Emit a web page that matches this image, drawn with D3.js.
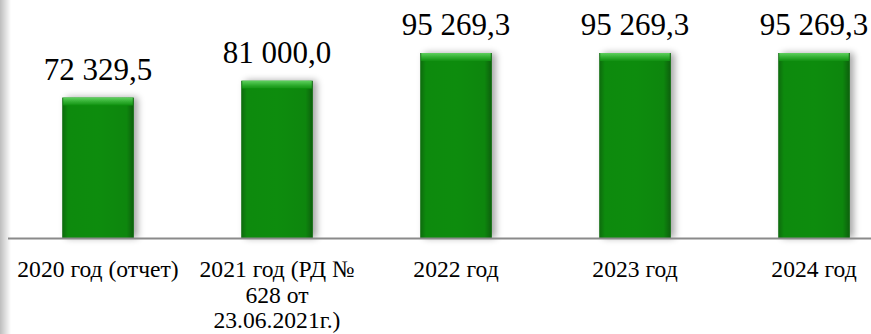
<!DOCTYPE html>
<html><head><meta charset="utf-8">
<script src="https://cdn.jsdelivr.net/npm/d3@7"></script>
</head><body style="margin:0">
<script>
const categories = ["2020 год (отчет)", "2021 год (РД № 628 от 23.06.2021г.)", "2022 год", "2023 год", "2024 год"];
const categoryLines = [["2020 год (отчет)"], ["2021 год (РД №", "628 от", "23.06.2021г.)"], ["2022 год"], ["2023 год"], ["2024 год"]];
const values = [72329.5, 81000.0, 95269.3, 95269.3, 95269.3];
const valueLabels = ["72 329,5", "81 000,0", "95 269,3", "95 269,3", "95 269,3"];

const W = 871, H = 334;
const svg = d3.select("body").append("svg").attr("width", W).attr("height", H);

const baseY = 238;
const x = d3.scaleBand().domain(categories).range([8.5, 903.5]).paddingInner(0.6).paddingOuter(0.3);
const y = d3.scaleLinear().domain([0, 95269.3]).range([baseY, 53]);

const defs = svg.append("defs");
const lg = defs.append("linearGradient").attr("id", "edge").attr("x1", 0).attr("x2", 1);
lg.append("stop").attr("offset", 0).attr("stop-color", "#bdbdbd");
lg.append("stop").attr("offset", 1).attr("stop-color", "#ffffff");
const hg = defs.append("linearGradient").attr("id", "barH").attr("x1", 0).attr("x2", 1);
[[0, "#0c6a0c"], [0.08, "#0a8a0a"], [0.5, "#0b8c0b"], [0.9, "#0a860a"], [1, "#075f07"]].forEach(([o, c]) =>
  hg.append("stop").attr("offset", o).attr("stop-color", c));
const tg = defs.append("linearGradient").attr("id", "barTop").attr("x1", 0).attr("x2", 0).attr("y1", 0).attr("y2", 1);
[[0, "#5fd05f"], [0.5, "#33b033"], [1, "#109010"]].forEach(([o, c]) =>
  tg.append("stop").attr("offset", o).attr("stop-color", c));
const sh = defs.append("filter").attr("id", "shadow").attr("x", "-30%").attr("y", "-10%").attr("width", "160%").attr("height", "120%");
sh.append("feGaussianBlur").attr("in", "SourceAlpha").attr("stdDeviation", 3.5).attr("result", "b");
sh.append("feOffset").attr("in", "b").attr("dx", 4).attr("dy", 0).attr("result", "o");
sh.append("feComponentTransfer").attr("in", "o").attr("result", "oa")
  .append("feFuncA").attr("type", "linear").attr("slope", 0.35);
const m = sh.append("feMerge");
m.append("feMergeNode").attr("in", "oa");
m.append("feMergeNode").attr("in", "SourceGraphic");

svg.append("rect").attr("x", 0).attr("y", 0).attr("width", 11).attr("height", H).attr("fill", "url(#edge)");

const bars = svg.append("g").selectAll("g").data(values).join("g").attr("filter", "url(#shadow)");
bars.append("rect")
  .attr("x", (d, i) => x(categories[i])).attr("y", d => y(d))
  .attr("width", x.bandwidth()).attr("height", d => baseY - y(d)).attr("fill", "url(#barH)");
bars.append("rect")
  .attr("x", (d, i) => x(categories[i]) + 1).attr("y", d => y(d))
  .attr("width", x.bandwidth() - 2).attr("height", 8).attr("fill", "url(#barTop)");

svg.append("line").attr("x1", 8).attr("x2", W).attr("y1", baseY + 0.5).attr("y2", baseY + 0.5)
  .attr("stroke", "#8a8a8a").attr("stroke-width", 2);

svg.selectAll("text.v").data(valueLabels).join("text").attr("class", "v")
  .attr("x", (d, i) => x(categories[i]) + x.bandwidth() / 2)
  .attr("y", (d, i) => y(values[i]) - 18)
  .attr("text-anchor", "middle")
  .style("font-family", '"Liberation Serif"')
  .style("font-size", "31px")
  .text(d => d);

categoryLines.forEach((lines, i) => {
  const cx = x(categories[i]) + x.bandwidth() / 2;
  lines.forEach((t, j) => {
    svg.append("text").attr("x", cx).attr("y", 277 + j * 25.5)
      .attr("text-anchor", "middle")
      .style("font-family", '"Liberation Serif"')
      .style("font-size", "23.6px")
      .text(t);
  });
});
</script>
</body></html>
